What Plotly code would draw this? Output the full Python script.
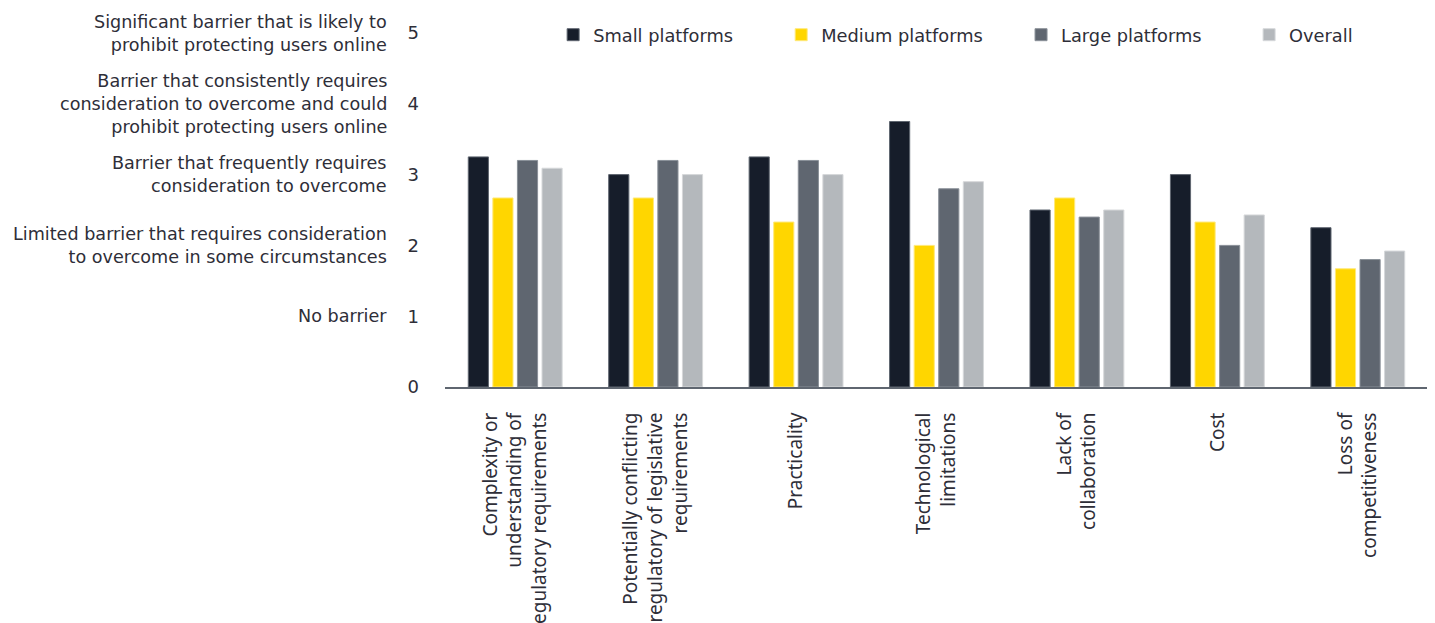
import plotly.graph_objects as go

categories = [
    "Complexity or<br>understanding of<br>regulatory requirements",
    "Potentially conflicting<br>regulatory of legislative<br>requirements",
    "Practicality",
    "Technological<br>limitations",
    "Lack of<br>collaboration",
    "Cost",
    "Loss of<br>competitiveness",
]
series_names = ["Small platforms", "Medium platforms", "Large platforms", "Overall"]
small = [3.25, 3.0, 3.25, 3.75, 2.5, 3.0, 2.25]
medium = [2.67, 2.67, 2.33, 2.0, 2.67, 2.33, 1.67]
large = [3.2, 3.2, 3.2, 2.8, 2.4, 2.0, 1.8]
overall = [3.09, 3.0, 3.0, 2.9, 2.5, 2.43, 1.92]
colors = ["#161d2a", "#ffd600", "#5f6670", "#b4b8bc"]
line_colors = ["#5f6670", "#ffe97a", "#8a9098", "#d6d8da"]

y_tick_vals = [0, 1, 2, 3, 4, 5]
y_descriptions = {
    1: "No barrier",
    2: "Limited barrier that requires consideration<br>to overcome in some circumstances",
    3: "Barrier that frequently requires<br>consideration to overcome",
    4: "Barrier that consistently requires<br>consideration to overcome and could<br>prohibit protecting users online",
    5: "Significant barrier that is likely to<br>prohibit protecting users online",
}

FONT_L = "DejaVu Sans, sans-serif"
FONT_X = "Noto Sans, Open Sans, sans-serif"
TXT = "#2e2e38"

legend_ids = ["legend", "legend2", "legend3", "legend4"]
legend_x = [0.110, 0.342, 0.586, 0.818]

fig = go.Figure()
for name, vals, c, lc, lid in zip(series_names, [small, medium, large, overall], colors, line_colors, legend_ids):
    fig.add_trace(go.Bar(
        name=name, x=categories, y=vals, legend=lid,
        marker=dict(color=c, line=dict(color=lc, width=1)),
    ))

for v, txt in y_descriptions.items():
    fig.add_annotation(
        x=0, xref="paper", xshift=-56, y=v, yref="y",
        text=txt, showarrow=False, xanchor="right", yanchor="middle",
        align="right", font=dict(family=FONT_L, size=17.6, color=TXT),
    )

legend_layout = {}
for lid, lx in zip(legend_ids, legend_x):
    legend_layout[lid] = dict(
        orientation="h", x=lx, xanchor="left", y=0.994, yanchor="middle",
        font=dict(family=FONT_L, size=17.8, color=TXT),
        bgcolor="rgba(0,0,0,0)",
    )

fig.update_layout(
    width=1435, height=623,
    margin=dict(l=437, r=15, t=25, b=244, autoexpand=False),
    paper_bgcolor="white", plot_bgcolor="white",
    barmode="group", bargap=0.3, bargroupgap=0.18,
    font=dict(family=FONT_L, size=17, color=TXT),
    showlegend=True,
    xaxis=dict(
        tickangle=-90, showline=True, linecolor="#5f6670", linewidth=2,
        ticks="", showgrid=False, automargin=False, ticklabelstandoff=16,
        tickfont=dict(family=FONT_X, size=19, color=TXT),
    ),
    yaxis=dict(
        range=[0, 5], tickvals=y_tick_vals, showgrid=False, zeroline=False,
        showline=False, ticks="", ticklabelstandoff=25, automargin=False,
        tickfont=dict(family=FONT_L, size=18, color=TXT),
    ),
    **legend_layout,
)

fig.write_html("out.html")
